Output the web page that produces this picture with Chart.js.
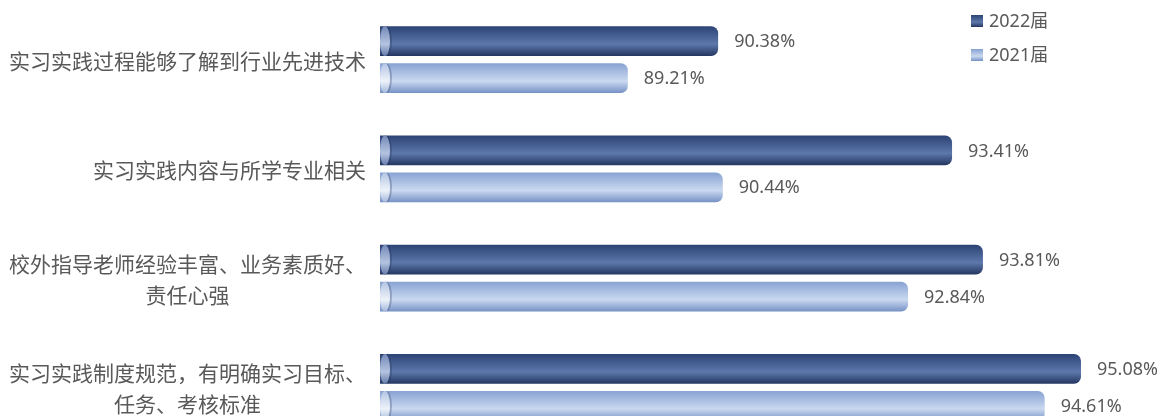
<!DOCTYPE html>
<html>
<head>
<meta charset="utf-8">
<script src="https://cdn.jsdelivr.net/npm/chart.js@4.4.0/dist/chart.umd.min.js"></script>
<style>
  html, body { margin: 0; padding: 0; background: #fff; overflow: hidden; }
  .chart-box { width: 1163px; height: 446px; position: relative; }
</style>
</head>
<body>
<div class="chart-box"><canvas id="practice-chart"></canvas></div>
<script>
// Data
const categories = [
  ['实习实践过程能够了解到行业先进技术'],
  ['实习实践内容与所学专业相关'],
  ['校外指导老师经验丰富、业务素质好、', '责任心强'],
  ['实习实践制度规范，有明确实习目标、', '任务、考核标准']
];
const values2022 = [90.38, 93.41, 93.81, 95.08];
const values2021 = [89.21, 90.44, 92.84, 94.61];
const seriesNames = ['2022届', '2021届'];
const axisMin = 86;
const axisMax = 96;

// Cylinder colours: [top, highlight, bottom] for body and left cap
const darkBody = ['#2c4274', '#5d78ab', '#23355f'];
const lightBody = ['#87a2d2', '#cad9f0', '#7490c4'];
const darkCap = ['#7489b6', '#b4c3e0', '#647aa9'];
const lightCap = ['#b3c4e3', '#eef3fa', '#a3b7dc'];
const textColor = '#595959';

function makeGradient(ctx, top, bottom, stops) {
  const g = ctx.createLinearGradient(0, top, 0, bottom);
  g.addColorStop(0, stops[0]);
  g.addColorStop(0.6, stops[1]);
  g.addColorStop(1, stops[2]);
  return g;
}

function bodyColor(stops) {
  return (context) => {
    const el = context.element;
    if (!el || el.y === undefined || !el.height) return stops[0];
    return makeGradient(context.chart.ctx, el.y - el.height / 2, el.y + el.height / 2, stops);
  };
}

// Left elliptical cap on every bar
const capPlugin = {
  id: 'capPlugin',
  afterDraw(chart) {
    const ctx = chart.ctx;
    const left = chart.chartArea.left;
    chart.data.datasets.forEach((ds, di) => {
      const stops = di === 0 ? darkCap : lightCap;
      chart.getDatasetMeta(di).data.forEach(el => {
        const h = el.height;
        ctx.save();
        // faint shadow line behind the cap
        ctx.fillStyle = 'rgba(20, 35, 70, 0.25)';
        ctx.beginPath();
        ctx.ellipse(left + 7, el.y, 5, h / 2 - 0.5, 0, 0, Math.PI * 2);
        ctx.fill();
        ctx.fillStyle = makeGradient(ctx, el.y - h / 2, el.y + h / 2, stops);
        ctx.beginPath();
        ctx.ellipse(left + 5, el.y, 5, h / 2, 0, 0, Math.PI * 2);
        ctx.fill();
        ctx.restore();
      });
    });
  }
};

// Percentages at bar ends
const valueLabels = {
  id: 'valueLabels',
  afterDatasetsDraw(chart) {
    const ctx = chart.ctx;
    ctx.save();
    ctx.font = '18px "Noto Sans", "Open Sans", sans-serif';
    ctx.fillStyle = textColor;
    ctx.textAlign = 'left';
    ctx.textBaseline = 'middle';
    chart.data.datasets.forEach((ds, di) => {
      chart.getDatasetMeta(di).data.forEach((el, i) => {
        ctx.fillText(ds.data[i].toFixed(2) + '%', el.x + 16, el.y + 1);
      });
    });
    ctx.restore();
  }
};

// Category labels: block right-aligned, lines centred inside the block
const categoryLabels = {
  id: 'categoryLabels',
  afterDraw(chart) {
    const ctx = chart.ctx;
    const yScale = chart.scales.y;
    const right = 366;
    const lineHeight = 31;
    ctx.save();
    ctx.font = '21px "Noto Sans CJK SC", sans-serif';
    ctx.fillStyle = textColor;
    ctx.textAlign = 'center';
    ctx.textBaseline = 'middle';
    chart.data.labels.forEach((lines, i) => {
      const widest = Math.max(...lines.map(l => ctx.measureText(l).width));
      const cx = right - widest / 2;
      const y0 = yScale.getPixelForValue(i) - (lines.length - 1) * lineHeight / 2;
      lines.forEach((line, k) => ctx.fillText(line, cx, y0 + k * lineHeight + 1));
    });
    ctx.restore();
  }
};

// Legend in the top-right corner
const cornerLegend = {
  id: 'cornerLegend',
  afterDraw(chart) {
    const ctx = chart.ctx;
    ctx.save();
    ctx.font = '18px "Noto Sans", "Noto Sans CJK SC", sans-serif';
    ctx.textBaseline = 'middle';
    ctx.textAlign = 'left';
    chart.data.datasets.forEach((ds, di) => {
      const y = 21 + di * 34;
      ctx.fillStyle = makeGradient(ctx, y - 6, y + 6, di === 0 ? darkBody : lightBody);
      ctx.fillRect(971, y - 6, 12, 12);
      ctx.fillStyle = textColor;
      ctx.fillText(ds.label, 989, y + 1);
    });
    ctx.restore();
  }
};

const chart = new Chart(document.getElementById('practice-chart').getContext('2d'), {
  type: 'bar',
  data: {
    labels: categories,
    datasets: [
      { label: seriesNames[0], data: values2022, backgroundColor: bodyColor(darkBody) },
      { label: seriesNames[1], data: values2021, backgroundColor: bodyColor(lightBody) }
    ]
  },
  options: {
    indexAxis: 'y',
    responsive: true,
    maintainAspectRatio: false,
    animation: false,
    categoryPercentage: 0.677,
    barPercentage: 0.81,
    borderRadius: 7,
    layout: { padding: { left: 380, right: 11, top: 5, bottom: 4 } },
    plugins: {
      legend: { display: false },
      tooltip: { enabled: false }
    },
    scales: {
      x: { type: 'linear', min: axisMin, max: axisMax, display: false },
      y: { display: false }
    }
  },
  plugins: [capPlugin, valueLabels, categoryLabels, cornerLegend]
});
chart.update();
</script>
</body>
</html>
